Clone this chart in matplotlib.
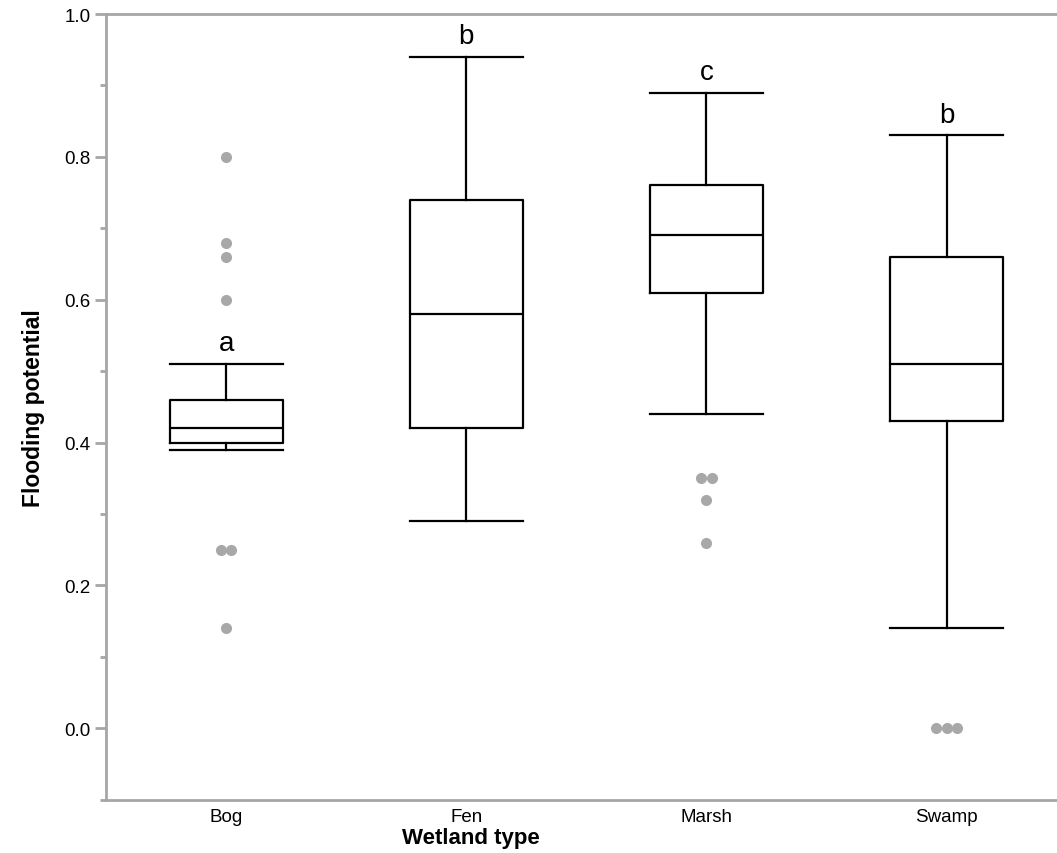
import matplotlib
matplotlib.use("Agg")
import matplotlib.pyplot as plt
from matplotlib.ticker import MultipleLocator

plt.rcParams['font.family'] = ['Liberation Sans', 'DejaVu Sans']

categories = ["Bog", "Fen", "Marsh", "Swamp"]
whisker_low = [0.39, 0.29, 0.44, 0.14]
q1 = [0.40, 0.42, 0.61, 0.43]
medians = [0.42, 0.58, 0.69, 0.51]
q3 = [0.46, 0.74, 0.76, 0.66]
whisker_high = [0.51, 0.94, 0.89, 0.83]
outliers = [
    [0.80, 0.68, 0.66, 0.60, 0.25, 0.25, 0.14],
    [],
    [0.35, 0.35, 0.32, 0.26],
    [0.0, 0.0, 0.0],
]
letters = ["a", "b", "c", "b"]

fig = plt.figure(figsize=(10.57, 8.54), dpi=100)
ax = fig.add_axes([0.1003, 0.0624, 0.8997, 0.92])

stats = []
for i, c in enumerate(categories):
    stats.append(dict(label=c, whislo=whisker_low[i], q1=q1[i], med=medians[i],
                      q3=q3[i], whishi=whisker_high[i], fliers=[]))
pos = list(range(len(categories)))
lp = dict(color='black', linewidth=1.6)
ax.bxp(stats, positions=pos, widths=0.47, showfliers=False,
       boxprops=lp, medianprops=lp, whiskerprops=lp, capprops=lp,
       capwidths=0.47)

dot_step = 0.044
for i, vals in enumerate(outliers):
    seen = {}
    for v in vals:
        seen[v] = seen.get(v, 0) + 1
    for v, n in seen.items():
        for k in range(n):
            ax.plot(pos[i] + (k - (n - 1) / 2) * dot_step, v, 'o',
                    color='#a8a8a8', markersize=8, markeredgewidth=0,
                    zorder=3)

for i, l in enumerate(letters):
    ax.annotate(l, (pos[i], whisker_high[i]), xytext=(0, 10),
                textcoords='offset points', ha='center', va='baseline',
                fontsize=20)

ax.set_xlim(-0.5, 3.46)
ax.set_ylim(-0.1, 1.0)
ax.yaxis.set_major_locator(MultipleLocator(0.2))
ax.yaxis.set_minor_locator(MultipleLocator(0.1))
ax.yaxis.set_major_formatter(matplotlib.ticker.FormatStrFormatter('%.1f'))
ax.set_xticks(pos)
ax.set_xticklabels(categories)

spine_c = '#a6a6a6'
for s in ['left', 'bottom', 'top']:
    ax.spines[s].set_color(spine_c)
    ax.spines[s].set_linewidth(2)
ax.spines['right'].set_visible(False)
ax.tick_params(axis='y', which='major', length=8, width=2, color=spine_c,
               labelsize=13.5, pad=3)
ax.tick_params(axis='y', which='minor', length=4, width=2, color=spine_c)
ax.tick_params(axis='x', length=0, labelsize=13.5, pad=6)
ax.tick_params(axis='x', which='minor', length=0)

ax.set_ylabel("Flooding potential", fontsize=16.5, fontweight='bold', labelpad=14)
ax.set_xlabel("Wetland type", fontsize=16, fontweight='bold', labelpad=1)
ax.xaxis.set_label_coords(0.384, -0.035)
ax.xaxis.label.set_va('top')

fig.savefig("out.png", dpi=100)
